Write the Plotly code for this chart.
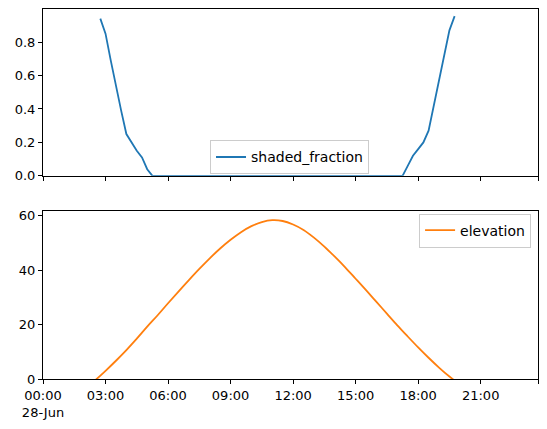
import plotly.graph_objects as go
from plotly.subplots import make_subplots

day = "2024-06-28"

# shaded fraction (15 min steps, zero through the middle of the day)
shade_times = ["02:45", "03:00", "03:15", "03:30", "03:45", "04:00", "04:15", "04:30",
               "04:45", "05:00", "05:15", "17:15", "17:30", "17:45", "18:00", "18:15",
               "18:30", "18:45", "19:00", "19:15", "19:30", "19:45"]
shaded_fraction = [0.94, 0.85, 0.69, 0.53, 0.39, 0.25, 0.20, 0.15,
                   0.11, 0.04, 0.00, 0.00, 0.06, 0.12, 0.16, 0.20,
                   0.27, 0.42, 0.56, 0.70, 0.87, 0.955]

# solar elevation (30 min steps)
elev_times = ["02:30", "03:00", "03:30", "04:00", "04:30", "05:00", "05:30", "06:00",
              "06:30", "07:00", "07:30", "08:00", "08:30", "09:00", "09:30", "10:00",
              "10:30", "11:00", "11:30", "12:00", "12:30", "13:00", "13:30", "14:00",
              "14:30", "15:00", "15:30", "16:00", "16:30", "17:00", "17:30", "18:00",
              "18:30", "19:00", "19:30", "20:00"]
elevation = [-0.5, 3.0, 6.7, 10.6, 14.8, 19.2, 23.4, 27.8,
             32.1, 36.3, 40.4, 44.3, 47.9, 51.1, 53.9, 56.1,
             57.6, 58.3, 58.0, 56.7, 54.7, 51.9, 48.6, 44.9,
             41.0, 36.8, 32.6, 28.3, 24.0, 19.7, 15.6, 11.6,
             7.8, 4.2, 0.9, -2.0]

tick_times = ["00:00", "03:00", "06:00", "09:00", "12:00", "15:00", "18:00", "21:00", "23:45"]
tick_text = ["00:00<br>28-Jun", "03:00", "06:00", "09:00", "12:00", "15:00", "18:00", "21:00", ""]

x_shade = [f"{day} {t}" for t in shade_times]
x_elev = [f"{day} {t}" for t in elev_times]
tickvals = [f"{day} {t}" for t in tick_times]

fig = make_subplots(rows=2, cols=1, shared_xaxes=True, vertical_spacing=0.094)

fig.add_trace(go.Scatter(x=x_shade, y=shaded_fraction, mode="lines", name="shaded_fraction",
                         line=dict(color="#1f77b4", width=1.8), legend="legend"), row=1, col=1)
fig.add_trace(go.Scatter(x=x_elev, y=elevation, mode="lines", name="elevation",
                         line=dict(color="#ff7f0e", width=1.8, shape="spline"),
                         legend="legend2"), row=2, col=1)

axis_style = dict(showline=True, mirror=True, linecolor="black", linewidth=1,
                  ticks="outside", ticklen=4, tickwidth=1, tickcolor="black",
                  showgrid=False, zeroline=False, automargin=False,
                  tickfont=dict(size=13))

xrange = [f"{day} 00:00", f"{day} 23:45"]
fig.update_xaxes(range=xrange, tickvals=tickvals, ticktext=tick_text, **axis_style)
fig.update_xaxes(showticklabels=False, row=1, col=1)
fig.update_yaxes(**axis_style)
fig.update_yaxes(range=[0, 0.9975], tickvals=[0, 0.2, 0.4, 0.6, 0.8], tickformat=".1f", row=1, col=1)
fig.update_yaxes(range=[0, 61.8], tickvals=[0, 20, 40, 60], row=2, col=1)

legend_style = dict(bgcolor="rgba(255,255,255,0.8)", bordercolor="#cccccc", borderwidth=1,
                    font=dict(size=14, color="black"))
fig.update_layout(
    width=547, height=429,
    margin=dict(l=43, r=9, t=9, b=50),
    paper_bgcolor="white", plot_bgcolor="white",
    font=dict(family="DejaVu Sans", size=13, color="black"),
    showlegend=True,
    legend=dict(x=0.498, y=0.553, xanchor="center", yanchor="bottom", **legend_style),
    legend2=dict(x=0.986, y=0.447, xanchor="right", yanchor="top", **legend_style),
)
fig.layout.yaxis.domain = [0.549, 1.0]
fig.layout.yaxis2.domain = [0.0, 0.455]

# drop the default page margin so the figure sits at the window corner
fig.write_html("out.html", config={"displayModeBar": False},
               post_script="document.body.style.margin='0';")
